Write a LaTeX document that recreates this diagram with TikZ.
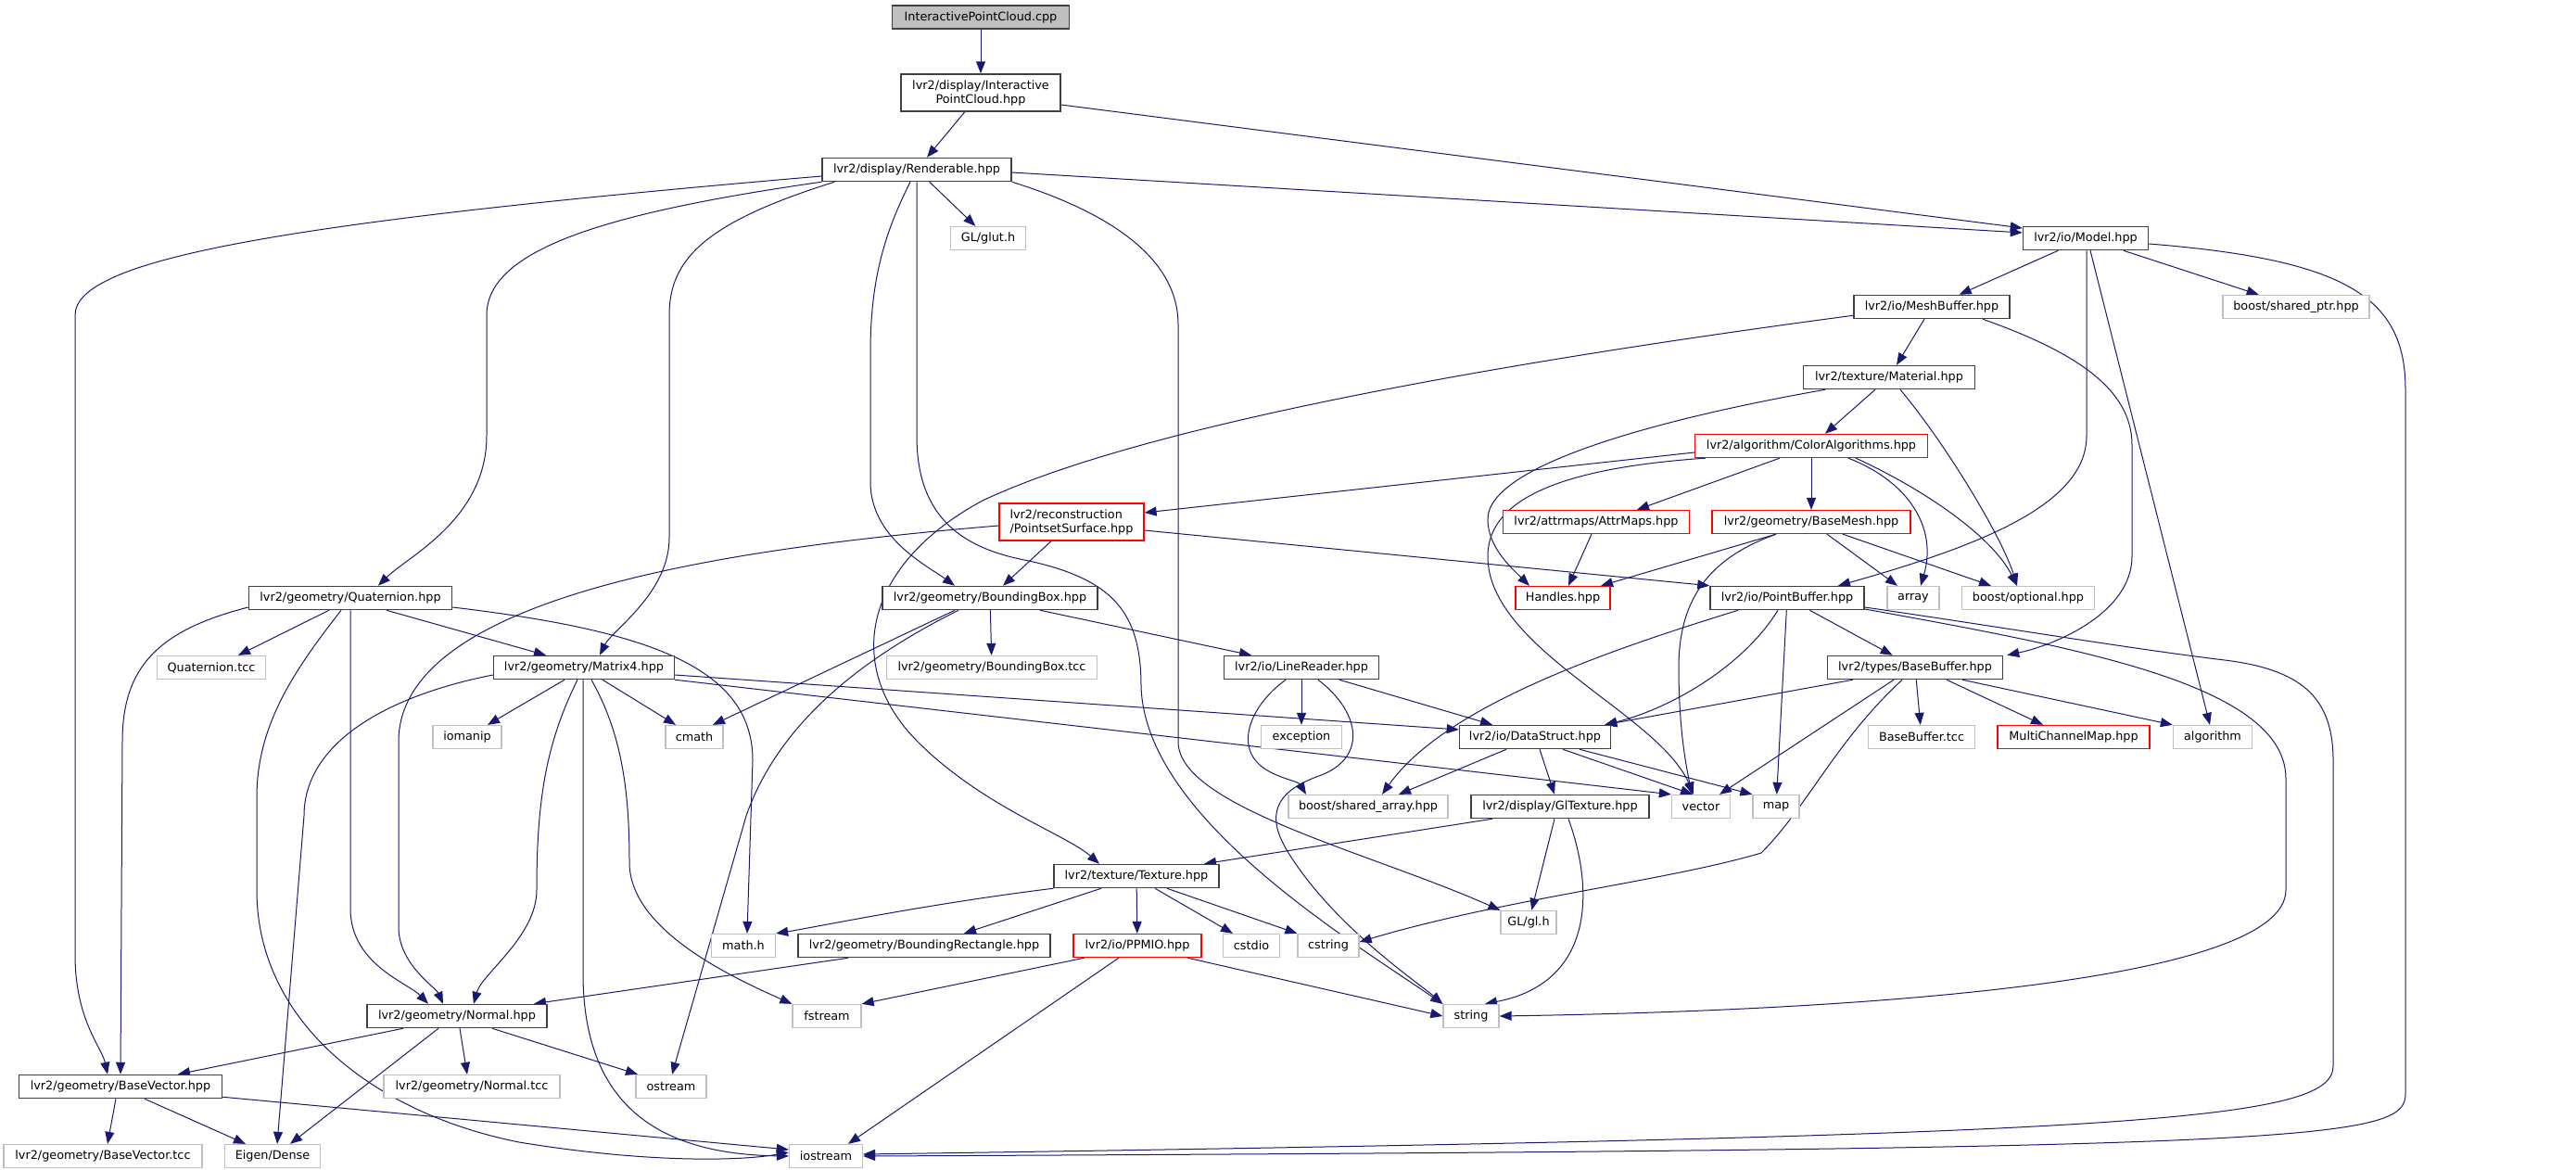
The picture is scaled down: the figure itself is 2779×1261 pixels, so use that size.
\documentclass[tikz,border=0pt]{standalone}
\usepackage{fontspec}
\setmainfont{DejaVu Sans}
\usetikzlibrary{arrows.meta}
\definecolor{edgec}{RGB}{25,25,112}
\definecolor{blkc}{RGB}{64,64,64}
\definecolor{grayc}{RGB}{191,191,191}
\definecolor{redc}{RGB}{255,0,0}
\pgfdeclarelayer{bg}
\pgfsetlayers{bg,main}
\begin{document}
\begin{tikzpicture}[x=1pt,y=-1pt,
  nd/.style={draw, line width=1.3pt, fill=white, inner sep=0pt, minimum height=25pt, font=\fontsize{12.8pt}{15pt}\selectfont},
  blk/.style={nd, draw=blkc, line width=1.5pt},
  gry/.style={nd, draw=grayc},
  rd/.style={nd, draw=redc},
  rt/.style={nd, draw=blkc, fill=grayc, line width=1.5pt},
  e/.style={draw=edgec, line width=1pt, -{Triangle[length=13pt,width=10pt]}}]
\useasboundingbox (0,0) rectangle (2779,1261);
% nodes
\node[rt, minimum width=191pt] (ipccpp) at (1058,18.5) {InteractivePointCloud.cpp};
\node[blk, minimum width=172pt, minimum height=40pt, align=center] (ipchpp) at (1058,100) {lvr2/display/Interactive\\PointCloud.hpp};
\node[blk, minimum width=204pt] (rend) at (989,183) {lvr2/display/Renderable.hpp};
\node[gry, minimum width=81pt] (glut) at (1066,257) {GL/glut.h};
\node[blk, minimum width=135pt] (model) at (2250,257) {lvr2/io/Model.hpp};
\node[blk, minimum width=168pt] (meshbuf) at (2084,331) {lvr2/io/MeshBuffer.hpp};
\node[gry, minimum width=158pt] (sharedptr) at (2477,331) {boost/shared\_ptr.hpp};
\node[blk, minimum width=185pt] (material) at (2038,407) {lvr2/texture/Material.hpp};
\node[rd, minimum width=251pt] (coloralg) at (1954,481) {lvr2/algorithm/ColorAlgorithms.hpp};
\node[rd, minimum width=156pt, minimum height=40pt, align=left] (pss) at (1156,563) {lvr2/reconstruction\\/PointsetSurface.hpp};
\node[rd, minimum width=201pt] (attrmaps) at (1722,563) {lvr2/attrmaps/AttrMaps.hpp};
\node[rd, minimum width=214pt] (basemesh) at (1954,563) {lvr2/geometry/BaseMesh.hpp};
\node[blk, minimum width=219pt] (quat) at (378,645) {lvr2/geometry/Quaternion.hpp};
\node[blk, minimum width=232pt] (bbox) at (1068,645) {lvr2/geometry/BoundingBox.hpp};
\node[rd, minimum width=102pt] (handles) at (1686,645) {Handles.hpp};
\node[blk, minimum width=166pt] (pointbuf) at (1928,645) {lvr2/io/PointBuffer.hpp};
\node[gry, minimum width=56pt] (array) at (2064,645) {array};
\node[gry, minimum width=143pt] (optional) at (2188,645) {boost/optional.hpp};
\node[gry, minimum width=117pt] (qtcc) at (228,720) {Quaternion.tcc};
\node[blk, minimum width=195pt] (matrix4) at (630,720) {lvr2/geometry/Matrix4.hpp};
\node[gry, minimum width=227pt] (bbtcc) at (1070,720) {lvr2/geometry/BoundingBox.tcc};
\node[blk, minimum width=167pt] (linereader) at (1404,720) {lvr2/io/LineReader.hpp};
\node[blk, minimum width=189pt] (basebuf) at (2066,720) {lvr2/types/BaseBuffer.hpp};
\node[gry, minimum width=74pt] (iomanip) at (504,795) {iomanip};
\node[gry, minimum width=62pt] (cmath) at (749,795) {cmath};
\node[gry, minimum width=87pt] (exception) at (1404,795) {exception};
\node[blk, minimum width=163pt] (datastruct) at (1656,795) {lvr2/io/DataStruct.hpp};
\node[gry, minimum width=115pt] (bbufftcc) at (2073,795) {BaseBuffer.tcc};
\node[rd, minimum width=164pt] (mcmap) at (2237,795) {MultiChannelMap.hpp};
\node[gry, minimum width=85pt] (algorithm) at (2387,795) {algorithm};
\node[gry, minimum width=172pt] (sharedarr) at (1476,870) {boost/shared\_array.hpp};
\node[blk, minimum width=192pt] (gltexture) at (1683,870) {lvr2/display/GlTexture.hpp};
\node[gry, minimum width=63pt] (vector) at (1835,870) {vector};
\node[gry, minimum width=50pt] (map) at (1916,870) {map};
\node[blk, minimum width=178pt] (texture) at (1226,945) {lvr2/texture/Texture.hpp};
\node[gry, minimum width=60pt] (glh) at (1649,995) {GL/gl.h};
\node[gry, minimum width=69pt] (mathh) at (802,1020) {math.h};
\node[blk, minimum width=272pt] (bbrect) at (997,1020) {lvr2/geometry/BoundingRectangle.hpp};
\node[rd, minimum width=138pt] (ppmio) at (1227,1020) {lvr2/io/PPMIO.hpp};
\node[gry, minimum width=61pt] (cstdio) at (1350,1020) {cstdio};
\node[gry, minimum width=66pt] (cstring) at (1433,1020) {cstring};
\node[blk, minimum width=194pt] (normal) at (493,1096) {lvr2/geometry/Normal.hpp};
\node[gry, minimum width=74pt] (fstream) at (892,1096) {fstream};
\node[gry, minimum width=60pt] (string) at (1587,1096) {string};
\node[blk, minimum width=219pt] (basevec) at (130,1172) {lvr2/geometry/BaseVector.hpp};
\node[gry, minimum width=190pt] (normaltcc) at (509,1172) {lvr2/geometry/Normal.tcc};
\node[gry, minimum width=76pt] (ostream) at (724,1172) {ostream};
\node[gry, minimum width=214pt] (bvtcc) at (111,1247) {lvr2/geometry/BaseVector.tcc};
\node[gry, minimum width=103pt] (eigen) at (294,1247) {Eigen/Dense};
\node[gry, minimum width=79pt] (iostream) at (891,1247) {iostream};
\begin{pgfonlayer}{bg}
\fill[white] (0,0) rectangle (2779,1261);
% top
\draw[e] (ipccpp) -- (ipchpp);
\draw[e] (ipchpp) -- (rend);
\draw[e] ([yshift=-13pt]ipchpp.east) -- ([yshift=11pt]model.west);
\draw[e] ([yshift=-3pt]rend.east) -- ([yshift=6pt]model.west);
\draw[e] (rend) -- (glut);
\draw[e] ([yshift=-7pt]rend.west) .. controls (300,240) and (81,280) .. (81,340) -- (81,1030) .. controls (81,1100) and (110,1130) .. ([xshift=-14pt]basevec.north);
\draw[e] (rend.south west) .. controls (650,230) and (525,270) .. (525,340) -- (525,470) .. controls (525,560) and (440,600) .. ([xshift=30pt]quat.north);
\draw[e] ([xshift=14pt]rend.south west) .. controls (760,240) and (722,280) .. (722,340) -- (722,580) .. controls (722,640) and (660,680) .. ([xshift=17pt]matrix4.north);
\draw[e] ([xshift=-7pt]rend.south) .. controls (955,250) and (939,300) .. (939,380) -- (939,520) .. controls (939,580) and (1000,610) .. ([xshift=-38pt]bbox.north);
\draw[e] (rend.south) -- (989,470) .. controls (989,560) and (1040,592) .. (1110,605) .. controls (1200,625) and (1231,660) .. (1231,740) .. controls (1235,880) and (1450,1010) .. (string.north west);
\draw[e] (rend.south east) .. controls (1200,230) and (1271,280) .. (1271,350) -- (1271,800) .. controls (1271,870) and (1480,920) .. (glh.north west);
% model
\draw[e] (model) -- (meshbuf);
\draw[e] (model) -- (sharedptr);
\draw[e] ([xshift=5pt]model.south) -- ([xshift=-3pt]algorithm.north);
\draw[e] ([xshift=1pt]model.south) -- (2251,470) .. controls (2251,540) and (2150,585) .. ([xshift=55pt]pointbuf.north);
\draw[e] ([yshift=-6pt]model.east) .. controls (2530,280) and (2595,320) .. (2595,420) -- (2595,1180) .. controls (2595,1230) and (2500,1240) .. (iostream.east);
% meshbuf
\draw[e] (meshbuf) -- (material);
\draw[e] ([yshift=4pt]meshbuf.south west) .. controls (1700,380) and (1250,450) .. (1060,540) .. controls (930,610) and (910,720) .. (990,800) .. controls (1060,870) and (1150,900) .. ([xshift=-40pt]texture.north);
\draw[e] ([xshift=55pt]meshbuf.south) .. controls (2240,380) and (2300,420) .. (2300,480) -- (2300,600) .. controls (2300,660) and (2220,695) .. ([xshift=4pt]basebuf.north east);
% material
\draw[e] (material) -- (coloralg);
\draw[e] ([xshift=-69pt]material.south) .. controls (1800,450) and (1605,500) .. (1605,560) .. controls (1605,590) and (1630,612) .. ([xshift=-36pt]handles.north);
\draw[e] ([xshift=12pt]material.south) .. controls (2100,480) and (2160,580) .. ([xshift=-12pt]optional.north);
% coloralg
\draw[e] ([yshift=-7pt]coloralg.west) -- ([yshift=10pt]pss.east);
\draw[e] ([xshift=-114pt]coloralg.south) .. controls (1680,505) and (1605,540) .. (1605,600) .. controls (1605,700) and (1790,770) .. ([xshift=-8pt]vector.north);
\draw[e] ([xshift=-34pt]coloralg.south) -- ([xshift=44pt]attrmaps.north);
\draw[e] (coloralg) -- (basemesh);
\draw[e] ([xshift=40pt]coloralg.south) .. controls (2060,520) and (2090,570) .. ([xshift=8pt]array.north);
\draw[e] ([xshift=48pt]coloralg.south) .. controls (2080,530) and (2150,580) .. ([xshift=-12pt]optional.north);
% basemesh, attrmaps
\draw[e] ([xshift=-38pt]basemesh.south) -- ([xshift=41pt]handles.north);
\draw[e] ([xshift=-38pt]basemesh.south) .. controls (1850,600) and (1811,640) .. (1811,720) .. controls (1811,790) and (1820,830) .. ([xshift=-10pt]vector.north);
\draw[e] ([xshift=17pt]basemesh.south) -- ([xshift=-17pt]array.north);
\draw[e] ([xshift=34pt]basemesh.south) -- ([xshift=-40pt]optional.north);
\draw[e] ([xshift=-5pt]attrmaps.south) -- ([xshift=6pt]handles.north);
% pss
\draw[e] ([xshift=-22pt]pss.south) -- ([xshift=14pt]bbox.north);
\draw[e] ([yshift=-9pt]pss.east) -- (pointbuf.north west);
\draw[e] ([yshift=-4pt]pss.west) .. controls (800,590) and (430,640) .. (430,800) -- (430,1000) .. controls (430,1040) and (470,1065) .. ([xshift=-15pt]normal.north);
% bbox
\draw[e] (bbox) -- (bbtcc);
\draw[e] ([xshift=54pt]bbox.south) -- ([xshift=-54pt]linereader.north);
\draw[e] ([xshift=-38pt]bbox.south) -- ([xshift=20pt]cmath.north);
\draw[e] ([xshift=-34pt]bbox.south) .. controls (930,710) and (840,780) .. (805,880) -- ([xshift=1pt]ostream.north);
% quat
\draw[e] ([xshift=-23pt]quat.south) -- ([xshift=29pt]qtcc.north);
\draw[e] ([xshift=39pt]quat.south) -- ([xshift=-41pt]matrix4.north);
\draw[e] ([yshift=-10pt]quat.west) .. controls (170,680) and (132,720) .. (132,800) -- (basevec.north);
\draw[e] ([xshift=-10pt]quat.south) .. controls (320,720) and (277,780) .. (277,860) -- (277,960) .. controls (277,1100) and (400,1200) .. (560,1232) .. controls (700,1255) and (800,1252) .. ([yshift=4pt]iostream.west);
\draw[e] (quat.south) -- (378,980) .. controls (378,1040) and (440,1060) .. ([xshift=-31pt]normal.north);
\draw[e] ([yshift=-10pt]quat.east) .. controls (700,680) and (812,720) .. (812,820) -- ([xshift=4pt]mathh.north);
% matrix4
\draw[e] ([xshift=-21pt]matrix4.south) -- ([xshift=22pt]iomanip.north);
\draw[e] ([xshift=20pt]matrix4.south) -- ([xshift=-20pt]cmath.north);
\draw[e] ([yshift=-8pt]matrix4.west) .. controls (420,750) and (328,800) .. (328,880) -- ([xshift=5pt]eigen.north);
\draw[e] ([xshift=-7pt]matrix4.south) .. controls (590,800) and (579,860) .. (579,960) .. controls (579,1010) and (520,1050) .. ([xshift=18pt]normal.north);
\draw[e] ([xshift=-1pt]matrix4.south) -- (629,1050) .. controls (629,1200) and (720,1245) .. (iostream.west);
\draw[e] ([xshift=8pt]matrix4.south) .. controls (670,790) and (679,850) .. (679,930) .. controls (679,1000) and (780,1050) .. (fstream.north west);
\draw[e] ([yshift=-8pt]matrix4.east) -- ([yshift=8pt]datastruct.west);
\draw[e] (matrix4.south east) -- (vector.north west);
% linereader
\draw[e] (linereader) -- (exception);
\draw[e] ([xshift=41pt]linereader.south) -- ([xshift=-46pt]datastruct.north);
\draw[e] ([xshift=-17pt]linereader.south) .. controls (1350,760) and (1335,800) .. (1356,822) .. controls (1370,838) and (1400,842) .. ([xshift=-67pt]sharedarr.north);
\draw[e] ([xshift=18pt]linereader.south) .. controls (1470,770) and (1475,820) .. (1420,838) .. controls (1375,855) and (1365,880) .. (1390,920) .. controls (1440,1000) and (1530,1060) .. (string.north west);
% datastruct
\draw[e] ([xshift=-31pt]datastruct.south) -- ([xshift=33pt]sharedarr.north);
\draw[e] ([xshift=5pt]datastruct.south) -- ([xshift=-6pt]gltexture.north);
\draw[e] ([xshift=30pt]datastruct.south) -- ([xshift=-9pt]vector.north);
\draw[e] ([xshift=48pt]datastruct.south) -- (map.north west);
% pointbuf
\draw[e] ([xshift=-53pt]pointbuf.south) .. controls (1740,700) and (1560,760) .. ([xshift=15pt]sharedarr.north);
\draw[e] ([xshift=-10pt]pointbuf.south) .. controls (1880,720) and (1800,765) .. ([xshift=-7pt]datastruct.north east);
\draw[e] (pointbuf) -- (map);
\draw[e] (pointbuf) -- (basebuf);
\draw[e] ([yshift=-12pt]pointbuf.east) .. controls (2250,700) and (2466,740) .. (2466,840) -- (2466,960) .. controls (2466,1060) and (2000,1090) .. (string.east);
\draw[e] ([yshift=-10pt]pointbuf.east) .. controls (2150,675) and (2300,700) .. (2400,712) .. controls (2480,722) and (2517,750) .. (2517,820) -- (2517,1150) .. controls (2517,1210) and (2300,1225) .. ([yshift=2pt]iostream.east);
% basebuf
\draw[e] ([xshift=28pt]basebuf.south west) -- ([xshift=-7pt]datastruct.north east);
\draw[e] ([xshift=-23pt]basebuf.south) -- ([xshift=20pt]vector.north);
\draw[e] ([xshift=-14pt]basebuf.south) .. controls (1980,800) and (1950,870) .. (1900,920) .. controls (1800,950) and (1620,970) .. ([yshift=4pt]cstring.east);
\draw[e] (basebuf) -- (bbufftcc);
\draw[e] ([xshift=34pt]basebuf.south) -- ([xshift=-33pt]mcmap.north);
\draw[e] ([xshift=51pt]basebuf.south) -- (algorithm.north west);
% gltexture
\draw[e] ([xshift=-73pt]gltexture.south) -- ([xshift=73pt]texture.north);
\draw[e] ([xshift=-6pt]gltexture.south) -- (glh);
\draw[e] ([xshift=9pt]gltexture.south) .. controls (1720,960) and (1720,1060) .. ([xshift=15pt]string.north);
% texture
\draw[e] (texture.south west) .. controls (1000,975) and (880,1000) .. (mathh.north east);
\draw[e] ([xshift=-38pt]texture.south) -- ([xshift=43pt]bbrect.north);
\draw[e] (texture) -- (ppmio);
\draw[e] ([xshift=20pt]texture.south) -- ([xshift=-20pt]cstdio.north);
\draw[e] ([xshift=33pt]texture.south) -- (cstring.north west);
% ppmio
\draw[e] ([xshift=-57pt]ppmio.south) -- (fstream.north east);
\draw[e] ([xshift=-20pt]ppmio.south) -- ([xshift=24pt]iostream.north);
\draw[e] ([xshift=54pt]ppmio.south) -- (string.west);
% bbrect, normal, basevec
\draw[e] ([xshift=-82pt]bbrect.south) -- ([xshift=83pt]normal.north);
\draw[e] ([xshift=-58pt]normal.south) -- ([xshift=62pt]basevec.north);
\draw[e] ([xshift=-20pt]normal.south) -- ([xshift=19pt]eigen.north);
\draw[e] ([xshift=3pt]normal.south) -- ([xshift=-5pt]normaltcc.north);
\draw[e] ([xshift=38pt]normal.south) -- ([xshift=-36pt]ostream.north);
\draw[e] ([xshift=-5pt]basevec.south) -- ([xshift=5pt]bvtcc.north);
\draw[e] ([xshift=26pt]basevec.south) -- ([xshift=-29pt]eigen.north);
\draw[e] ([yshift=2pt]basevec.south east) -- ([yshift=7pt]iostream.west);
\end{pgfonlayer}
\end{tikzpicture}
\end{document}
